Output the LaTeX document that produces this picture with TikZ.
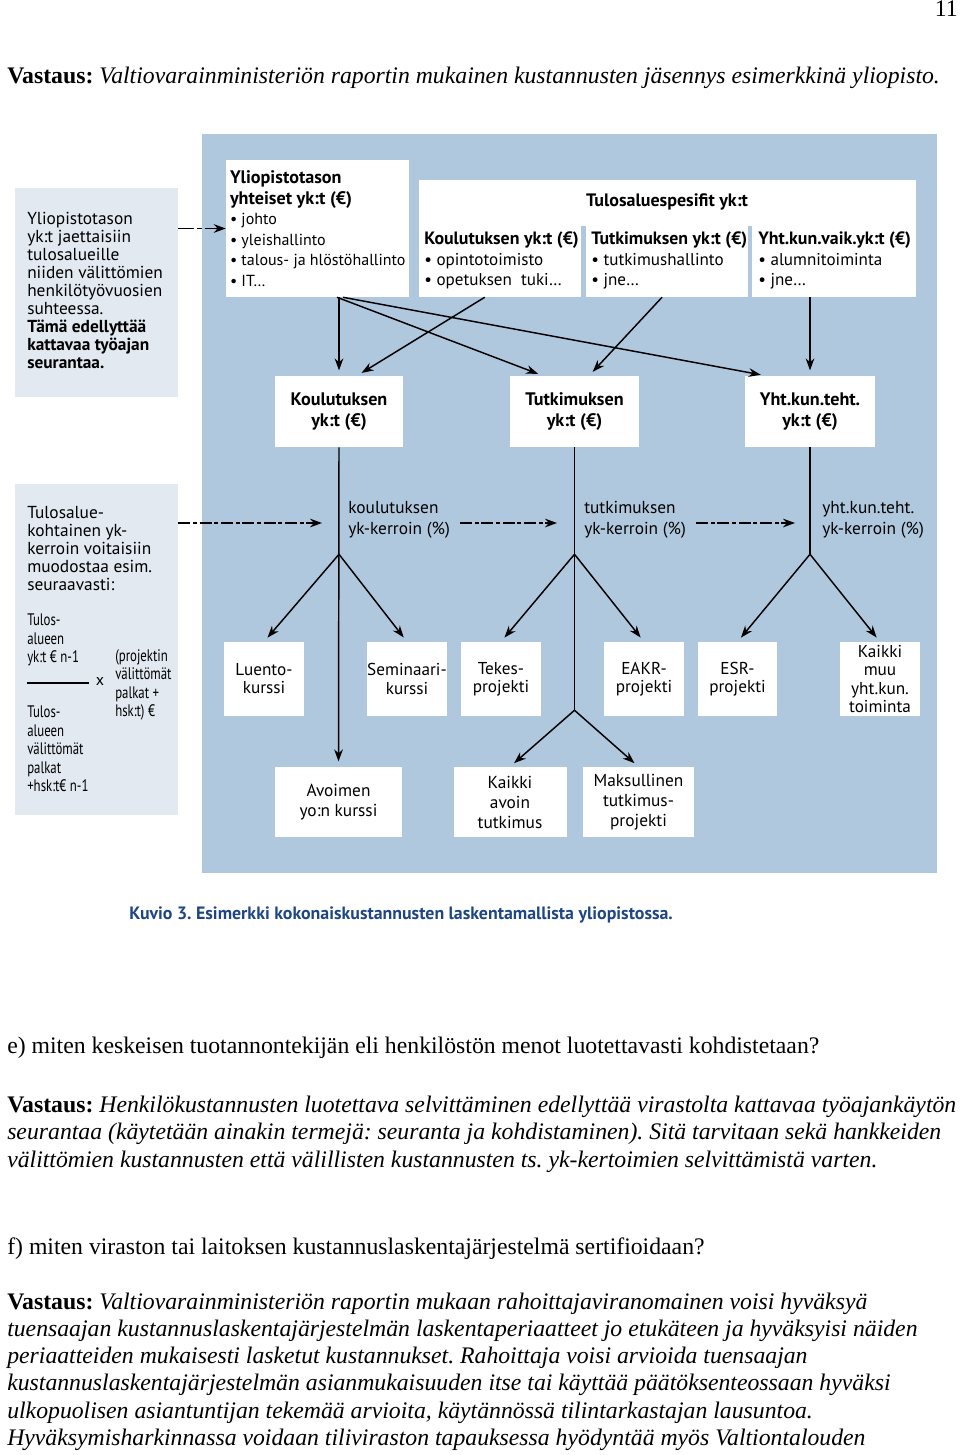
\documentclass[tikz,border=0pt]{standalone}
\usepackage{fontspec}
\setmainfont{Liberation Serif}
\newfontfamily\diagfont{PT Sans}
\newfontfamily\narrowfont[FakeStretch=0.77]{PT Sans}
\usetikzlibrary{positioning, arrows.meta}
\definecolor{panelblue}{RGB}{176,200,222}
\definecolor{paleblue}{RGB}{226,233,241}
\definecolor{captionblue}{RGB}{30,70,132}
\tikzset{wh/.style 2 args={minimum width=#1*0.75pt, minimum height=#2*0.75pt}}
\newcommand\ylihead[1]{{\bfseries\fontsize{13.6}{15.4}\selectfont #1}}
\newcommand\colhead[1]{{\bfseries\fontsize{13.4}{15.4}\selectfont #1}}
\frenchspacing

\begin{document}
\begin{tikzpicture}[x=0.75pt,y=-0.75pt,>={Stealth[length=9pt,width=6.5pt]}]
    \tikzstyle{box}=[fill=white, inner sep=0pt]
    \tikzstyle{note}=[fill=paleblue, inner sep=0pt]
    \tikzstyle{txt}=[inner sep=0pt, align=left, font=\diagfont\fontsize{13}{13.5}\selectfont]
    \tikzstyle{boxtxt}=[font=\diagfont\fontsize{12}{15.4}\selectfont]
    \tikzstyle{coltxt}=[font=\diagfont\fontsize{12.8}{15.4}\selectfont]
    \tikzstyle{leaf}=[box, align=center, font=\diagfont\fontsize{12.9}{13.6}\selectfont]
    \tikzstyle{leaflow}=[box, align=center, font=\diagfont\fontsize{13}{15}\selectfont]
    \tikzstyle{total}=[box, align=center, font=\diagfont\bfseries\fontsize{13.6}{15.6}\selectfont]
    \tikzstyle{frac}=[inner sep=0pt, align=left, font=\narrowfont\fontsize{12.5}{13.9}\selectfont]
    \tikzstyle{link}=[->, line width=1.1pt, shorten >=4pt]
    \tikzstyle{trunk}=[line width=1.1pt]
    \tikzstyle{hint}=[->, line width=1.1pt, dash pattern=on 9pt off 2pt on 3pt off 2pt]
    \tikzstyle{body}=[anchor=base west, inner sep=0pt, font=\rmfamily\fontsize{17.8}{20.25}\selectfont]

    \useasboundingbox (0,0) rectangle (960,1455);

    % page head
    \node[body, anchor=base east] (pageno) at (958,17) {11};
    \node[body] (intro) at (7,84) {\textbf{Vastaus:} \textit{Valtiovarainministeriön raportin mukainen kustannusten jäsennys esimerkkinä yliopisto.}};

    % figure
    \node[fill=panelblue, inner sep=0pt, wh={735}{739}] (panel) at (569.5,503.5) {};
    \node[note, wh={163}{209}] (note1) at (96.5,292.5) {};
    \node[note, wh={163}{331}] (note2) at (96.5,649.5) {};

    \node[txt, anchor=west] (note1txt) at (27,290) {Yliopistotason\\yk:t jaettaisiin\\tulosalueille\\niiden välittömien\\henkilötyövuosien\\suhteessa.\\\textbf{Tämä edellyttää}\\\textbf{kattavaa työajan}\\\textbf{seurantaa.}};
    \node[txt, anchor=west] (note2txt) at (27,549) {Tulosalue-\\kohtainen yk-\\kerroin voitaisiin\\muodostaa esim.\\seuraavasti:};
    \node[frac, anchor=west] (numer) at (27,640) {Tulos-\\alueen\\yk:t € n-1};
    \node[frac, anchor=west] (denom) at (27,749) {Tulos-\\alueen\\välittömät\\palkat\\+hsk:t€ n-1};
    \node[frac, anchor=west] (factor) at (115,685) {(projektin\\välittömät\\palkat +\\hsk:t) €};
    \node[txt, font=\diagfont\fontsize{12}{13}\selectfont] (times) at (100,681) {x};
    \draw[line width=1.3pt] (27,683) -- (89,683);

    % common and specific overheads
    \node[box, wh={183}{137}] (yli) at (317.5,228.5) {};
    \node[txt, boxtxt, right=3pt of yli.west] (ylitxt) {\ylihead{Yliopistotason}\\\ylihead{yhteiset yk:t (€)}\\\textbullet\ johto\\\textbullet\ yleishallinto\\\textbullet\ talous- ja hlöstöhallinto\\\textbullet\ IT…};
    \node[box, wh={497}{117}] (tulos) at (667.5,238.5) {};
    \node[txt, font=\diagfont\bfseries\fontsize{13.5}{14}\selectfont] (tulostitle) at (667,202) {Tulosaluespesifit yk:t};
    \fill[panelblue] (581,226) rectangle (586,297);
    \fill[panelblue] (748,226) rectangle (752,297);
    \node[txt, coltxt, anchor=west] (kcol) at (424,260.5) {\colhead{Koulutuksen yk:t (€)}\\\textbullet\ opintotoimisto\\\textbullet\ opetuksen\ \ tuki…};
    \node[txt, coltxt, anchor=west] (tcol) at (591,260.5) {\colhead{Tutkimuksen yk:t (€)}\\\textbullet\ tutkimushallinto\\\textbullet\ jne…};
    \node[txt, coltxt, anchor=west] (ycol) at (758,260.5) {\colhead{Yht.kun.vaik.yk:t (€)}\\\textbullet\ alumnitoiminta\\\textbullet\ jne…};

    % totals per area
    \node[total, wh={128}{71}] (kyk) at (339,411.5) {Koulutuksen\\yk:t (€)};
    \node[total, wh={129}{71}] (tyk) at (574.5,411.5) {Tutkimuksen\\yk:t (€)};
    \node[total, wh={130}{71}] (yyk) at (810,411.5) {Yht.kun.teht.\\yk:t (€)};

    % cost objects
    \node[leaf, wh={80}{74}] (luento) at (264,679) {Luento-\\kurssi};
    \node[leaf, wh={79}{74}] (seminaari) at (407,679) {Seminaari-\\kurssi};
    \node[leaf, wh={80}{74}] (tekes) at (501,679) {Tekes-\\projekti};
    \node[leaf, wh={80}{74}] (eakr) at (644,679) {EAKR-\\projekti};
    \node[leaf, wh={79}{74}] (esr) at (737.5,679) {ESR-\\projekti};
    \node[leaf, wh={80}{74}] (muu) at (880,679) {Kaikki\\muu\\yht.kun.\\toiminta};
    \node[leaflow, wh={127}{70}] (avoimen) at (338.5,802) {Avoimen\\yo:n kurssi};
    \node[leaflow, wh={113}{70}] (avoin) at (510,802) {Kaikki\\avoin\\tutkimus};
    \node[leaflow, wh={111}{70}] (maksu) at (638.5,802) {Maksullinen\\tutkimus-\\projekti};

    % coefficient labels
    \node[txt, anchor=west, font=\diagfont\fontsize{13}{15.8}\selectfont] (klabel) at (348,520) {koulutuksen\\yk-kerroin (\%)};
    \node[txt, anchor=west, font=\diagfont\fontsize{13}{15.8}\selectfont] (tlabel) at (584,520) {tutkimuksen\\yk-kerroin (\%)};
    \node[txt, anchor=west, font=\diagfont\fontsize{13}{15.8}\selectfont] (ylabel) at (822,520) {yht.kun.teht.\\yk-kerroin (\%)};

    \coordinate[below=80.25pt of kyk.south] (kfork);
    \coordinate[below=80.25pt of tyk.south] (tfork);
    \coordinate[below=197.25pt of tyk.south] (tfork2);
    \coordinate[below=80.25pt of yyk.south] (yfork);
    \coordinate (hk) at (322,523);
    \coordinate (ht0) at (460,523);
    \coordinate (ht) at (557,523);
    \coordinate (hy0) at (696,523);
    \coordinate (hy) at (795,523);

    \path[hint, dash pattern=on 12pt off 2pt on 4pt off 2pt]
    (yli.west -| note1.east) edge (yli.west);
    \path[hint]
    (note2.east |- hk) edge (hk)
    (ht0) edge (ht)
    (hy0) edge (hy);

    \path[link]
    (yli.south -| kyk.north) edge (kyk.north)
    ([xshift=14.6pt]yli.south) edge ([xshift=-23.6pt]tyk.north)
    ([xshift=19.1pt]yli.south) edge ([xshift=-33pt]yyk.north)
    ([xshift=49.5pt]tulos.south west) edge ([xshift=13.5pt]kyk.north)
    ([xshift=-4.1pt]tulos.south) edge ([xshift=10.9pt]tyk.north)
    (tulos.south -| yyk.north) edge (yyk.north);

    \draw[trunk] (tyk.south) -- (tfork2);
    \draw[trunk] (yyk.south) -- (yfork);
    \path[link]
    (kyk.south) edge (avoimen.north)
    (kfork) edge (luento.north)
    (kfork) edge (seminaari.north)
    (tfork) edge (tekes.north)
    (tfork) edge (eakr.north)
    (tfork2) edge (avoin.north)
    (tfork2) edge (maksu.north)
    (yfork) edge (esr.north)
    (yfork) edge (muu.north);

    \node[font=\diagfont\bfseries\fontsize{13.4}{14}\selectfont, text=captionblue, anchor=west, inner sep=0pt] (caption) at (129,915) {Kuvio 3. Esimerkki kokonaiskustannusten laskentamallista yliopistossa.};

    % questions and answers
    \node[body] (qe) at (7,1053) {e) miten keskeisen tuotannontekijän eli henkilöstön menot luotettavasti kohdistetaan?};
    \node[body] (ve1) at (7,1112) {\textbf{Vastaus:} \textit{Henkilökustannusten luotettava selvittäminen edellyttää virastolta kattavaa työajankäytön}};
    \node[body] (ve2) at (7,1139) {\textit{seurantaa (käytetään ainakin termejä: seuranta ja kohdistaminen). Sitä tarvitaan sekä hankkeiden}};
    \node[body] (ve3) at (7,1167) {\textit{välittömien kustannusten että välillisten kustannusten ts. yk-kertoimien selvittämistä varten.}};

    \node[body] (qf) at (7,1254) {f) miten viraston tai laitoksen kustannuslaskentajärjestelmä sertifioidaan?};
    \node[body] (vf1) at (7,1309) {\textbf{Vastaus:} \textit{Valtiovarainministeriön raportin mukaan rahoittajaviranomainen voisi hyväksyä}};
    \node[body] (vf2) at (7,1336) {\textit{tuensaajan kustannuslaskentajärjestelmän laskentaperiaatteet jo etukäteen ja hyväksyisi näiden}};
    \node[body] (vf3) at (7,1363) {\textit{periaatteiden mukaisesti lasketut kustannukset. Rahoittaja voisi arvioida tuensaajan}};
    \node[body] (vf4) at (7,1390) {\textit{kustannuslaskentajärjestelmän asianmukaisuuden itse tai käyttää päätöksenteossaan hyväksi}};
    \node[body] (vf5) at (7,1418) {\textit{ulkopuolisen asiantuntijan tekemää arvioita, käytännössä tilintarkastajan lausuntoa.}};
    \node[body] (vf6) at (7,1445) {\textit{Hyväksymisharkinnassa voidaan tiliviraston tapauksessa hyödyntää myös Valtiontalouden}};
\end{tikzpicture}
\end{document}
